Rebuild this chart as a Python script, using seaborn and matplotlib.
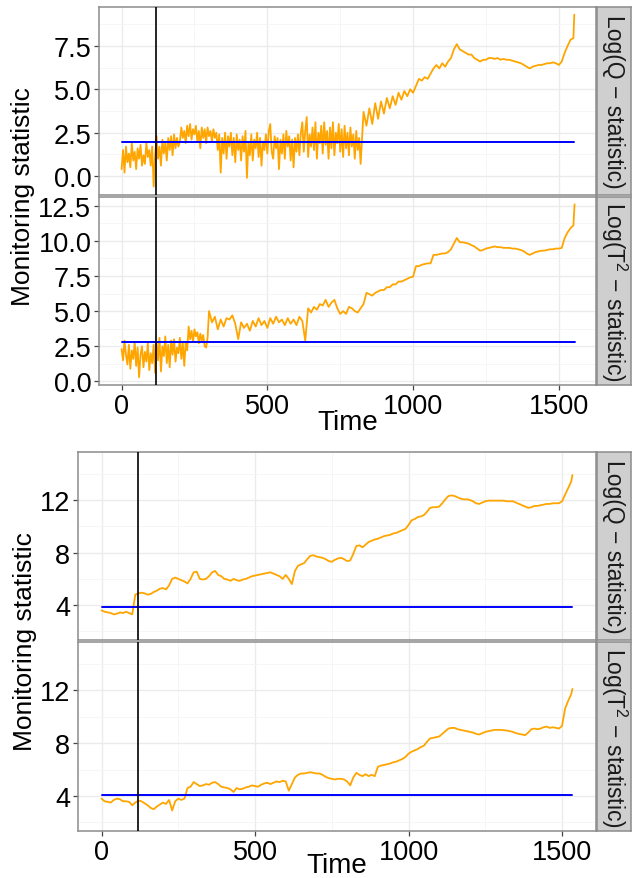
import numpy as np
import pandas as pd
import matplotlib
matplotlib.use("Agg")
import matplotlib.pyplot as plt
import seaborn as sns

# ---------------- data ----------------
# Top figure, Q statistic: noisy start every 5 time units (t = 0..815),
# then every 10 units from t = 820, last value at the series end.
top_q_early_step = 5
top_q_early = [0.4, 1.5, 0.2, 1.7, 0.8, 1.3, 0.5, 1.9, 0.9, 1.4,
               0.4, 1.6, 1.0, 1.8, 0.6, 1.2, 0.7, 1.9, 1.1, 1.5,
               0.6, 1.7, -0.6, 1.2,
               2.3, 1.0, 1.7, 0.6, 2.1, 1.3, 1.9, 0.9, 2.2, 1.5,
               2.3, 1.2, 2.4, 1.6, 2.2, 1.7,
               2.0, 2.8, 2.2, 2.6, 1.9, 2.9, 2.3, 3.0, 2.1, 2.7,
               2.4, 2.9, 2.0, 2.6, 1.6, 2.8, 2.2, 2.7, 1.9, 2.8,
               2.3, 2.6, 2.0, 2.7, 2.2, 2.5,
               1.5, 2.4, 0.2, 2.2, 1.3, 2.5, 1.0, 2.3, 1.7, 2.5,
               1.2, 2.2, 0.8, 2.4, 1.5, 2.1, 0.9, 2.3, 1.4, 2.6,
               -0.1, 1.9, 1.2, 2.4, 0.9, 2.1, 1.6, 2.5, 1.1, 2.2,
               0.6, 2.0, 1.5, 2.4, 1.3, 2.6, 3.0, 1.4, 1.0, 2.3,
               1.6, 2.2, 0.4, 2.1, 1.3, 2.4, 1.0, 2.6, 1.7, 2.3,
               0.9, 2.1, 0.5, 2.2, 1.4, 2.4, 1.2, 2.5,
               3.1, 1.4, 2.6, 3.4, 1.1, 2.4, 1.7, 2.8, 1.5, 3.1,
               1.0, 2.5, 1.9, 2.9, 1.3, 3.1, 1.8, 2.6, 1.0, 2.8,
               1.6, 3.1, 1.2, 2.5, 1.9, 3.0, 1.4, 2.7, 1.1, 2.9,
               1.6, 2.5, 1.2, 2.8, 1.7, 2.4, 1.0, 2.6, 1.5, 2.2]
top_q_late_start = 820
top_q_late = [0.7,
              3.7, 2.9, 3.9, 3.0, 4.2, 3.3, 4.3, 3.6, 4.5, 3.9,
              4.6, 4.1, 4.8, 4.4, 4.9, 4.6, 5.0, 4.8, 5.2, 5.6,
              5.5, 5.7, 5.6, 5.9, 6.2, 6.4, 6.2, 6.5, 6.3, 6.6,
              6.8, 7.3, 7.6, 7.3, 7.2, 7.1, 7.0, 7.0, 6.8, 6.7,
              6.6, 6.7, 6.7, 6.8, 6.8, 6.75, 6.8, 6.7, 6.75, 6.7,
              6.7, 6.65, 6.6, 6.55, 6.5, 6.4, 6.3, 6.2, 6.3, 6.35,
              6.4, 6.4, 6.45, 6.5, 6.5, 6.55, 6.5, 6.4, 6.6, 7.1,
              7.5, 7.85, 7.95, 9.3]
top_q_end = 1553

# Top figure, T^2 statistic: every 5 units for t = 0..295, then every 10
top_t2_early_step = 5
top_t2_early = [2.3, 1.5, 2.9, 1.9, 1.2, 2.6, 0.9, 2.2, 1.6, 2.8,
                1.1, 2.4, 0.3, 1.9, 2.5, 1.0, 2.1, 1.4, 2.7, 0.8,
                2.0, 1.3, 2.6, 0.6,
                2.8, 1.5, 3.1, 0.7, 2.5, 1.8, 3.2, 1.3, 2.6, 1.0,
                2.9, 1.9, 3.0, 1.4, 2.4, 2.0, 3.1, 1.6, 2.7, 1.1,
                2.8, 2.2,
                3.9, 3.0, 3.6, 2.8, 3.7, 3.2, 3.5, 2.7, 3.4, 2.9,
                3.3, 2.5, 2.4, 3.1]
top_t2_late_start = 300
top_t2_late = [5.0, 4.2, 4.6, 3.7, 4.4, 3.9, 4.5, 4.4, 4.7, 4.1,
               3.0, 4.2, 3.8, 4.1, 3.6, 4.3, 3.9, 4.5, 4.0, 4.3,
               3.8, 4.5, 4.1, 4.6, 4.2, 4.4, 4.0, 4.5, 4.1, 4.4,
               4.0, 4.6, 4.3, 2.9,
               5.2, 4.9, 5.3, 5.1, 5.5, 5.4, 5.8, 5.3, 5.6, 5.8,
               5.2, 4.8, 5.0, 4.8, 5.3, 5.2, 5.0, 4.9, 5.2, 5.5,
               6.3, 6.2, 6.1, 6.3, 6.4, 6.5, 6.5, 6.7, 6.7, 6.9,
               6.9, 7.1, 7.1, 7.2, 7.3, 7.4, 7.45, 8.2, 8.2, 8.3,
               8.35, 8.4, 8.4, 9.0, 9.0, 9.05, 9.1, 9.1, 9.2, 9.4,
               9.8, 10.2, 9.9, 9.9, 9.85, 9.8, 9.7, 9.6, 9.45, 9.3,
               9.35, 9.45, 9.5, 9.55, 9.6, 9.55, 9.55, 9.5, 9.5, 9.5,
               9.45, 9.45, 9.4, 9.35, 9.25, 9.1, 9.0, 9.1, 9.2, 9.25,
               9.3, 9.3, 9.35, 9.4, 9.4, 9.45, 9.45, 9.5, 10.2, 10.6,
               10.9, 11.1, 12.6]
top_t2_end = 1554

top_thr_q = 1.94
top_thr_t2 = 2.83
top_change = 118

# Bottom figure: every 10 time units, last value at the series end
bot_end = 1534
bot_q = [3.6, 3.5, 3.45, 3.4, 3.3, 3.35, 3.45, 3.4, 3.5, 3.4,
         3.3, 4.8, 4.9, 4.95, 4.9, 4.8, 4.85, 5.0, 5.1, 5.25,
         5.3, 5.2, 5.5, 6.0, 6.1, 6.0, 5.9, 5.8, 5.65, 6.0,
         6.5, 6.55, 6.0, 5.95, 6.0, 6.2, 6.5, 6.6, 6.3, 6.2,
         6.0, 5.95, 5.85, 6.0, 5.9, 5.85, 5.95, 6.0, 6.1, 6.2,
         6.25, 6.3, 6.35, 6.4, 6.45, 6.5, 6.4, 6.3, 6.2, 6.0,
         6.3, 6.0, 5.6, 6.6, 7.0, 7.1, 7.2, 7.5, 7.75, 7.8,
         7.7, 7.65, 7.6, 7.5, 7.35, 7.3, 7.45, 7.55, 7.6, 7.5,
         7.35, 7.4, 7.9, 8.5, 8.55, 8.4, 8.6, 8.8, 8.9, 9.0,
         9.05, 9.15, 9.25, 9.3, 9.35, 9.45, 9.5, 9.6, 9.7, 9.8,
         10.1, 10.45, 10.55, 10.7, 10.75, 10.85, 11.1, 11.4, 11.45, 11.45,
         11.5, 11.75, 12.05, 12.3, 12.35, 12.3, 12.2, 12.1, 12.05, 12.05,
         12.0, 11.9, 11.75, 11.7, 11.8, 11.9, 11.95, 11.95, 11.95, 11.95,
         11.95, 11.95, 11.9, 11.9, 11.9, 11.8, 11.7, 11.6, 11.5, 11.4,
         11.45, 11.55, 11.55, 11.6, 11.65, 11.7, 11.7, 11.75, 11.75, 11.75,
         11.9, 12.4, 12.9, 13.4, 13.9]
bot_t2 = [3.8, 3.6, 3.55, 3.5, 3.7, 3.8, 3.75, 3.6, 3.6, 3.55,
          3.3, 3.5, 3.65, 3.6, 3.45, 3.3, 3.1, 3.0, 3.2, 3.35,
          3.5, 3.4, 3.7, 2.9, 3.6, 3.8, 3.7, 3.8, 4.6, 4.7,
          5.05, 4.9, 4.75, 4.8, 4.9, 4.85, 5.0, 5.05, 4.9, 4.7,
          4.65, 4.6, 4.5, 4.3, 4.6, 4.5, 4.55, 4.65, 4.7, 4.8,
          4.75, 4.7, 4.85, 4.95, 5.0, 4.9, 5.0, 5.1, 5.05, 5.15,
          5.1, 4.4, 4.9, 5.4, 5.6, 5.7, 5.7, 5.75, 5.8, 5.75,
          5.7, 5.7, 5.6, 5.45, 5.35, 5.3, 5.25, 5.3, 5.3, 5.25,
          5.1, 4.8, 5.4, 5.75, 5.6, 5.5, 5.65, 5.5, 5.6, 5.5,
          6.2, 6.3, 6.35, 6.4, 6.45, 6.55, 6.6, 6.7, 6.8, 6.95,
          7.2, 7.35, 7.45, 7.55, 7.7, 7.8, 8.1, 8.35, 8.4, 8.45,
          8.5, 8.7, 8.9, 9.1, 9.15, 9.15, 9.05, 9.0, 8.95, 8.9,
          8.85, 8.8, 8.7, 8.65, 8.75, 8.85, 8.9, 8.95, 9.0, 9.0,
          9.0, 8.98, 8.95, 8.9, 8.85, 8.75, 8.7, 8.65, 8.6, 8.8,
          9.05, 9.1, 9.05, 9.1, 9.2, 9.25, 9.15, 9.2, 9.15, 9.1,
          9.3, 10.6, 11.2, 11.7, 12.1]
bot_thr_q = 3.89
bot_thr_t2 = 4.08
bot_change = 119

strip_q = "Log(Q \u2212 statistic)"
strip_t2 = "Log(T$^{2}$ \u2212 statistic)"
x_ticks = [0, 500, 1000, 1500]
x_label = "Time"
y_label = "Monitoring statistic"


def build_times(early_n, early_step, late_start, late_n, end, late_step=10):
    t_early = np.arange(early_n) * early_step
    t_late = late_start + np.arange(late_n - 1) * late_step
    return np.r_[t_early, t_late, end]


# ---------------- styling ----------------
sns.set_theme(style="white")
plt.rcParams["font.family"] = ["Liberation Sans", "DejaVu Sans"]
plt.rcParams["mathtext.fontset"] = "custom"
plt.rcParams["mathtext.rm"] = "Liberation Sans"
plt.rcParams["mathtext.it"] = "Liberation Sans:italic"
plt.rcParams["mathtext.bf"] = "Liberation Sans:bold"

W, H = 633, 879
fig = plt.figure(figsize=(W / 100, H / 100), dpi=100)
fig.patch.set_facecolor("white")


def rect(l, t, r, b):
    return [l / W, 1 - b / H, (r - l) / W, (b - t) / H]


ORANGE = "#FFA500"
BLUE = "#0000FF"
BORDER = "#8C8C8C"
TICK_FS = 19.5
YTITLE_FS = 19
XTITLE_FS = 20


def panel(box, t, vals, thr, change, ylim, yticks, ylabels, xlim, show_x):
    ax = fig.add_axes(rect(*box))
    df = pd.DataFrame({"Time": t, "value": vals})
    ax.set_axisbelow(True)
    ax.set_xticks(x_ticks)
    ax.set_xticks([250, 750, 1250], minor=True)
    ax.set_yticks(yticks)
    ax.set_yticklabels(ylabels)
    step = yticks[1] - yticks[0]
    mids = [y - step / 2 for y in yticks] + [yticks[-1] + step / 2]
    ax.set_yticks(mids, minor=True)
    ax.grid(which="major", color="#EBEBEB", linewidth=1.0)
    ax.grid(which="minor", color="#F5F5F5", linewidth=0.6)
    sns.lineplot(data=df, x="Time", y="value", color=ORANGE, linewidth=1.3,
                 estimator=None, sort=False, ax=ax, zorder=3)
    thr_df = pd.DataFrame({"Time": [t[0], t[-1]], "value": [thr, thr]})
    sns.lineplot(data=thr_df, x="Time", y="value", color=BLUE, linewidth=1.4,
                 estimator=None, sort=False, ax=ax, zorder=4)
    ax.axvline(change, color="black", linewidth=1.2, zorder=5)
    ax.set_xlim(*xlim)
    ax.set_ylim(*ylim)
    ax.set_xlabel("")
    ax.set_ylabel("")
    for s in ax.spines.values():
        s.set_visible(True)
        s.set_color(BORDER)
        s.set_linewidth(1.1)
    ax.tick_params(axis="both", which="major", length=3.5, width=0.9,
                   color="#444444", labelsize=TICK_FS, labelcolor="black",
                   pad=2, left=True, bottom=True)
    ax.tick_params(axis="both", which="minor", length=0)
    if not show_x:
        ax.tick_params(axis="x", which="both", length=0, labelbottom=False)
    else:
        ax.tick_params(axis="x", pad=2)
    return ax


def strip(box, label):
    l, t, r, b = box
    sax = fig.add_axes(rect(597, t, 631, b))
    sax.set_facecolor("#CFCFCF")
    sax.set_xticks([])
    sax.set_yticks([])
    for s in sax.spines.values():
        s.set_color(BORDER)
        s.set_linewidth(1.1)
    sax.text(0.5, 0.5, label, rotation=-90, ha="center", va="center",
             fontsize=16.5, color="#1A1A1A", transform=sax.transAxes)


top_xlim = (-77.5, 1627.5)
bot_xlim = (-76.7, 1610.7)

t_top_q = build_times(len(top_q_early), top_q_early_step, top_q_late_start,
                      len(top_q_late), top_q_end)
v_top_q = top_q_early + top_q_late
t_top_t2 = build_times(len(top_t2_early), top_t2_early_step,
                       top_t2_late_start, len(top_t2_late), top_t2_end)
v_top_t2 = top_t2_early + top_t2_late
t_bot = np.r_[np.arange(len(bot_q) - 1) * 10, bot_end]
t_bot2 = np.r_[np.arange(len(bot_t2) - 1) * 10, bot_end]

b1 = (99, 8, 596, 196)
b2 = (99, 198, 596, 386)
panel(b1, t_top_q, v_top_q, top_thr_q, top_change, (-1.09, 9.74),
      [0, 2.5, 5.0, 7.5], ["0.0", "2.5", "5.0", "7.5"], top_xlim, False)
panel(b2, t_top_t2, v_top_t2, top_thr_t2, top_change, (-0.26, 13.12),
      [0, 2.5, 5.0, 7.5, 10.0, 12.5],
      ["0.0", "2.5", "5.0", "7.5", "10.0", "12.5"], top_xlim, True)
strip(b1, strip_q)
strip(b2, strip_t2)

b3 = (78, 453, 596, 641)
b4 = (78, 643, 596, 832)
panel(b3, t_bot, bot_q, bot_thr_q, bot_change, (1.35, 15.65),
      [4, 8, 12], ["4", "8", "12"], bot_xlim, False)
panel(b4, t_bot2, bot_t2, bot_thr_t2, bot_change, (1.35, 15.65),
      [4, 8, 12], ["4", "8", "12"], bot_xlim, True)
strip(b3, strip_q)
strip(b4, strip_t2)

fig.text(23 / W, 1 - 197 / H, y_label, rotation=90, ha="center", va="center",
         fontsize=YTITLE_FS, color="black")
fig.text(347.5 / W, 1 - 423 / H, x_label, ha="center", va="center",
         fontsize=XTITLE_FS, color="black")
fig.text(25 / W, 1 - 642 / H, y_label, rotation=90, ha="center", va="center",
         fontsize=YTITLE_FS, color="black")
fig.text(337 / W, 1 - 866 / H, x_label, ha="center", va="center",
         fontsize=XTITLE_FS, color="black")

fig.savefig("out.png", dpi=100, facecolor="white")
